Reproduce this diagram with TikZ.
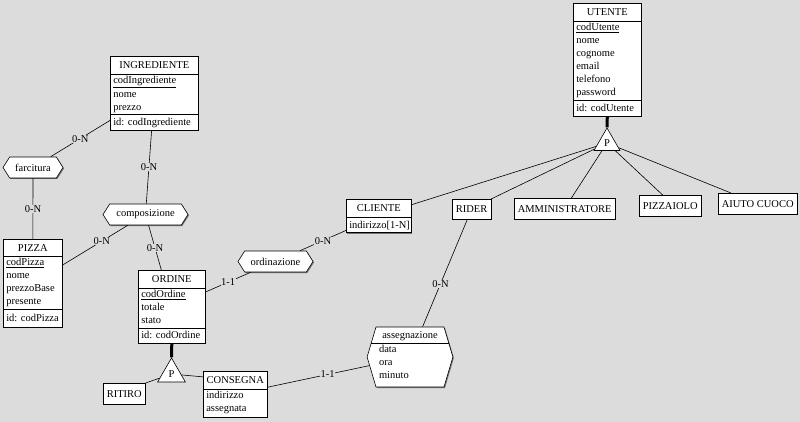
\documentclass[tikz,border=0pt]{standalone}
\usepackage{fontspec}
\setmainfont{Liberation Serif}
\usepackage{array}
\usetikzlibrary{shapes.geometric,shapes.symbols,shadows}
\definecolor{bgcol}{RGB}{220,220,220}
\newcolumntype{A}[1]{@{\hspace{3pt}}p{#1}@{}}
\newcommand{\hdrow}{\rule[-5.5pt]{0pt}{18pt}}
\newcommand{\idrow}{\rule[-5pt]{0pt}{16pt}}

\begin{document}
\begin{tikzpicture}[x=1pt,y=-1pt,line width=0.6pt,
	font=\fontsize{10.5}{13}\selectfont,
	shade/.style={drop shadow={shadow xshift=1pt,shadow yshift=-1pt,fill=black!55,opacity=1}},
	ent/.style={draw,fill=white,rectangle,inner sep=0pt,anchor=north west,shade},
	sub/.style={ent,inner xsep=3.5pt,minimum height=21pt},
	rel/.style={draw,fill=white,signal,signal to=west and east,signal pointer angle=115,minimum height=21pt,inner xsep=2pt,shade},
	isa/.style={draw,fill=white,regular polygon,regular polygon sides=3,inner sep=0pt},
	card/.style={fill=bgcol,inner sep=0.5pt}]

	\path[use as bounding box,fill=bgcol] (0,0) rectangle (800,422);

	% entita
	\node[ent] (ingrediente) at (110,56) {\begin{tabular}{A{85pt}}
		\multicolumn{1}{@{}c@{}}{\hdrow INGREDIENTE}\\ \hline
		\underline{codIngrediente}\\
		nome\\
		prezzo\\ \hline
		\idrow id: codIngrediente
	\end{tabular}};
	\node[ent] (pizza) at (3,239) {\begin{tabular}{A{56pt}}
		\multicolumn{1}{@{}c@{}}{\rule[-5pt]{0pt}{17pt}PIZZA}\\ \hline
		\underline{codPizza}\\
		nome\\
		prezzoBase\\
		presente\\ \hline
		\rule[-6pt]{0pt}{18pt}id: codPizza
	\end{tabular}};
	\node[ent] (ordine) at (138,270) {\begin{tabular}{A{64pt}}
		\multicolumn{1}{@{}c@{}}{\hdrow ORDINE}\\ \hline
		\underline{codOrdine}\\
		totale\\
		stato\\ \hline
		\rule[-4.5pt]{0pt}{15pt}id: codOrdine
	\end{tabular}};
	\node[ent] (utente) at (573,3) {\begin{tabular}{A{65pt}}
		\multicolumn{1}{@{}c@{}}{\hdrow UTENTE}\\ \hline
		\underline{codUtente}\\
		nome\\
		cognome\\
		email\\
		telefono\\
		password\\ \hline
		\idrow id: codUtente
	\end{tabular}};
	\node[ent] (cliente) at (346,199) {\begin{tabular}{A{62pt}}
		\multicolumn{1}{@{}c@{}}{\hdrow CLIENTE}\\ \hline
		\rule[-4.5pt]{0pt}{15pt}indirizzo[1-N]
	\end{tabular}};
	\node[ent] (consegna) at (203,371) {\begin{tabular}{A{61pt}}
		\multicolumn{1}{@{}c@{}}{\hdrow CONSEGNA}\\ \hline
		indirizzo\\
		assegnata\rule[-5pt]{0pt}{0pt}
	\end{tabular}};

	% sottotipi
	\node[sub] (ritiro) at (103,383) {RITIRO};
	\node[sub,minimum height=20pt] (rider) at (452,199) {RIDER};
	\node[sub] (amministratore) at (514,198) {AMMINISTRATORE};
	\node[sub] (pizzaiolo) at (639,195) {PIZZAIOLO};
	\node[sub] (aiuto) at (718,193) {AIUTO CUOCO};

	% associazioni
	\node[rel,minimum width=60pt] (farcitura) at (33,167.5) {farcitura};
	\node[rel,minimum width=85pt] (composizione) at (145.5,214.5) {composizione};
	\node[rel,minimum width=75pt] (ordinazione) at (275.5,261.5) {ordinazione};
	\node[rel,signal pointer angle=147,inner sep=0pt,minimum height=60pt,
	path picture={\draw ([yshift=-16pt]path picture bounding box.north west) -- ([yshift=-16pt]path picture bounding box.north east);}]
	(assegnazione) at (410,357) {\begin{tabular}{A{65pt}}
		\multicolumn{1}{@{}c@{}}{\rule[-5pt]{0pt}{16pt}assegnazione}\\
		data\\
		ora\\
		minuto\rule[-8.9pt]{0pt}{0pt}
	\end{tabular}};

	% gerarchie
	\node[isa,minimum size=30pt] (isaUtente) at (607,143) {P};
	\node[isa,minimum size=32pt] (isaOrdine) at (171.5,374) {P};

	\draw[line width=3pt] (utente.south) -- (isaUtente.corner 1);
	\draw[line width=3pt] (ordine.south) -- (isaOrdine.corner 1);
	\draw (cliente.19) -- (isaUtente);
	\draw (rider.north east) -- (isaUtente);
	\draw (amministratore.58) -- (isaUtente);
	\draw (pizzaiolo.125) -- (isaUtente);
	\draw (aiuto.158) -- (isaUtente);
	\draw (ritiro.north east) -- (isaOrdine);
	\draw (consegna.152) -- (isaOrdine);

	% collegamenti
	\draw (ingrediente) -- node[card]{0-N} (farcitura);
	\draw (farcitura) -- node[card]{0-N} (pizza);
	\draw (ingrediente) -- node[card]{0-N} (composizione);
	\draw (composizione) -- node[card,pos=.4]{0-N} (pizza);
	\draw (composizione) -- node[card]{0-N} (ordine);
	\draw (ordine) -- node[card]{1-1} (ordinazione);
	\draw (cliente) -- node[card]{0-N} (ordinazione);
	\draw (rider) -- node[card,pos=.6]{0-N} (assegnazione);
	\draw (consegna) -- node[card,pos=.59]{1-1} (assegnazione);

\end{tikzpicture}
\end{document}
